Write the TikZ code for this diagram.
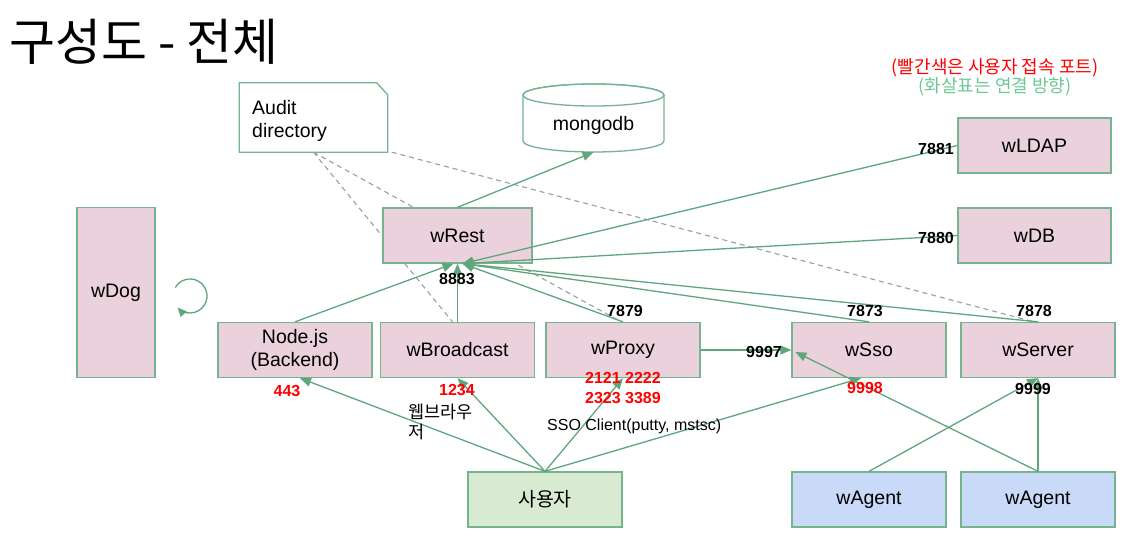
\documentclass[tikz,border=0pt]{standalone}
\usepackage{fontspec}
\setmainfont{Liberation Sans}
\newfontfamily\kr{Noto Sans CJK KR}
\usetikzlibrary{arrows.meta,calc}
\definecolor{boxpink}{HTML}{EAD1DC}
\definecolor{edgegreen}{HTML}{5FA67C}
\definecolor{bordergreen}{HTML}{76B48F}
\definecolor{usergreen}{HTML}{D9EAD3}
\definecolor{agentblue}{HTML}{C9DAF8}
\definecolor{legendgreen}{HTML}{6CC994}
\definecolor{dashgray}{HTML}{9E9E9E}
\pgfdeclarelayer{bg}
\pgfdeclarelayer{paper}
\pgfsetlayers{paper,bg,main}
\begin{document}
\begin{tikzpicture}[x=1pt,y=-1pt,
  box/.style={draw=bordergreen, line width=1.3pt, fill=boxpink, minimum width=154pt, minimum height=55pt, inner sep=0pt, font=\fontsize{19.5}{23}\selectfont, align=center},
  conn/.style={draw=edgegreen, line width=1.3pt, -{Triangle[length=11pt,width=9pt]}},
  auditline/.style={draw=dashgray, line width=1.1pt, dash pattern=on 5pt off 4pt},
  port/.style={font=\bfseries\fontsize{16}{20}\selectfont, inner sep=0pt, align=center},
  userport/.style={port, text=red},
  outline/.style={draw=bordergreen, line width=1.3pt, fill=white},
]
\useasboundingbox (0,0) rectangle (1128,534);
\begin{pgfonlayer}{paper}
\fill[white] (0,0) rectangle (1128,534);
\end{pgfonlayer}

% title and legend
\node[anchor=west, font=\kr\fontsize{50}{60}\selectfont, inner sep=0pt] (title) at (9,42) {구성도 - 전체};
\node[font=\kr\fontsize{18}{21}\selectfont, text=red, inner sep=0pt] (legend1) at (995,68) {(빨간색은 사용자 접속 포트)};
\node[font=\kr\fontsize{18}{21}\selectfont, text=legendgreen, inner sep=0pt] (legend2) at (995,87) {(화살표는 연결 방향)};

% audit directory (note shape)
\node[minimum width=148pt, minimum height=69pt, inner sep=0pt] (audit) at (313.5,117.5) {};
\draw[outline] (audit.south west) -- (audit.north west) -- ($(audit.north east)+(-11,0)$) -- ($(audit.north east)+(0,12)$) -- (audit.south east) -- cycle;
\node[anchor=west, align=left, font=\fontsize{19.5}{23}\selectfont, inner sep=0pt] (audittext) at (252,120.5) {Audit\\directory};

% mongodb cylinder
\node[minimum width=141pt, minimum height=68pt, inner sep=0pt] (mongo) at (593.5,118) {};
\draw[outline] (523,95) -- (523,141) arc[start angle=180, end angle=0, x radius=70.5, y radius=11] -- (664,95) arc[start angle=0, end angle=-180, x radius=70.5, y radius=11] -- cycle;
\draw[draw=bordergreen, line width=1.3pt] (593.5,95) ellipse [x radius=70.5, y radius=11];
\node[font=\fontsize{19.5}{23}\selectfont, inner sep=0pt] (mongolabel) at (593.5,125) {mongodb};

% boxes
\node[box, minimum width=153pt] (wldap) at (1034.5,145.5) {wLDAP};
\node[box, minimum width=153pt] (wdb) at (1034.5,235.5) {wDB};
\node[box, minimum width=78pt, minimum height=170pt] (wdog) at (116,292.5) {wDog};
\node[box, minimum width=149pt] (wrest) at (457.5,235.5) {wRest};
\node[box] (nodejs) at (295,350) {Node.js\\(Backend)};
\node[box] (wbroad) at (457.5,350) {wBroadcast};
\node[box] (wproxy) at (623,350) {wProxy};
\node[box] (wsso) at (869,350) {wSso};
\node[box] (wserver) at (1038,350) {wServer};
\node[box, fill=usergreen] (user) at (545,499.5) {\kr 사용자};
\node[box, fill=agentblue] (wagent1) at (869,499.5) {wAgent};
\node[box, fill=agentblue] (wagent2) at (1038,499.5) {wAgent};

% dashed audit lines (behind boxes)
\begin{pgfonlayer}{bg}
\draw[auditline] (audit.south) -- ($(wbroad.north)+(-5,0)$);
\draw[auditline] (audit.south) -- ($(wproxy.north)+(-2,0)$);
\draw[auditline] ($(audit.south east)+(4,0)$) -- ($(wserver.north)+(-4,0)$);
\end{pgfonlayer}

% self loop next to wDog
\coordinate (loopc) at (190,296);
\draw[conn, -{Triangle[length=9pt,width=8pt]}] ($(loopc)+(-150:17)$) arc[start angle=-150, end angle=137, radius=17];

% connectors
\coordinate (hubR) at ($(wrest.south)+(5,0)$);
\coordinate (hubL) at ($(wrest.south)+(-4,0)$);
\draw[conn] (wrest.north) -- (mongo.south);
\draw[conn] (wldap.west) -- (hubR);
\draw[conn] (wdb.west) -- (hubR);
\draw[conn] (nodejs.north) -- (hubL);
\draw[conn] (wbroad.north) -- (wrest.south);
\draw[conn] (wproxy.north) -- (hubR);
\draw[conn] (wsso.north) -- (hubR);
\draw[conn] (wserver.north) -- (hubR);
\draw[conn] (wproxy.east) -- (wsso.west);
\draw[conn] (user.north) -- ($(nodejs.south)+(5,0)$);
\draw[conn] (user.north) -- (wbroad.south);
\draw[conn] (user.north) -- (wproxy.south);
\draw[conn] (user.north) -- ($(wsso.south)+(-8,0)$);
\draw[conn] (wagent1.north) -- (wserver.south);
\draw[conn] (wagent2.north) -- (wserver.south);
\draw[conn] (wagent2.north) -- ($(wsso.west)+(4,2)$);

% port labels
\node[port] (p7881) at (936,149) {7881};
\node[port] (p7880) at (936,238) {7880};
\node[port] (p8883) at (457,279) {8883};
\node[port] (p7879) at (625,311) {7879};
\node[port] (p7873) at (865,311) {7873};
\node[port] (p7878) at (1034,311) {7878};
\node[port] (p9997) at (764,352) {9997};
\node[port] (p9999) at (1033,389) {9999};
\node[userport] (p443) at (287,391) {443};
\node[userport] (p1234) at (457,390) {1234};
\node[userport] (pproxy) at (623,388) {2121 2222\\2323 3389};
\node[userport] (p9998) at (865,388) {9998};

% other texts
\node[anchor=north west, align=left, font=\kr\fontsize{17.5}{20}\selectfont, inner sep=0pt] (browser) at (408,404) {웹브라우\\저};
\node[anchor=west, font=\fontsize{16}{19}\selectfont, inner sep=0pt] (sso) at (547,426) {SSO Client(putty, mstsc)};
\end{tikzpicture}
\end{document}
